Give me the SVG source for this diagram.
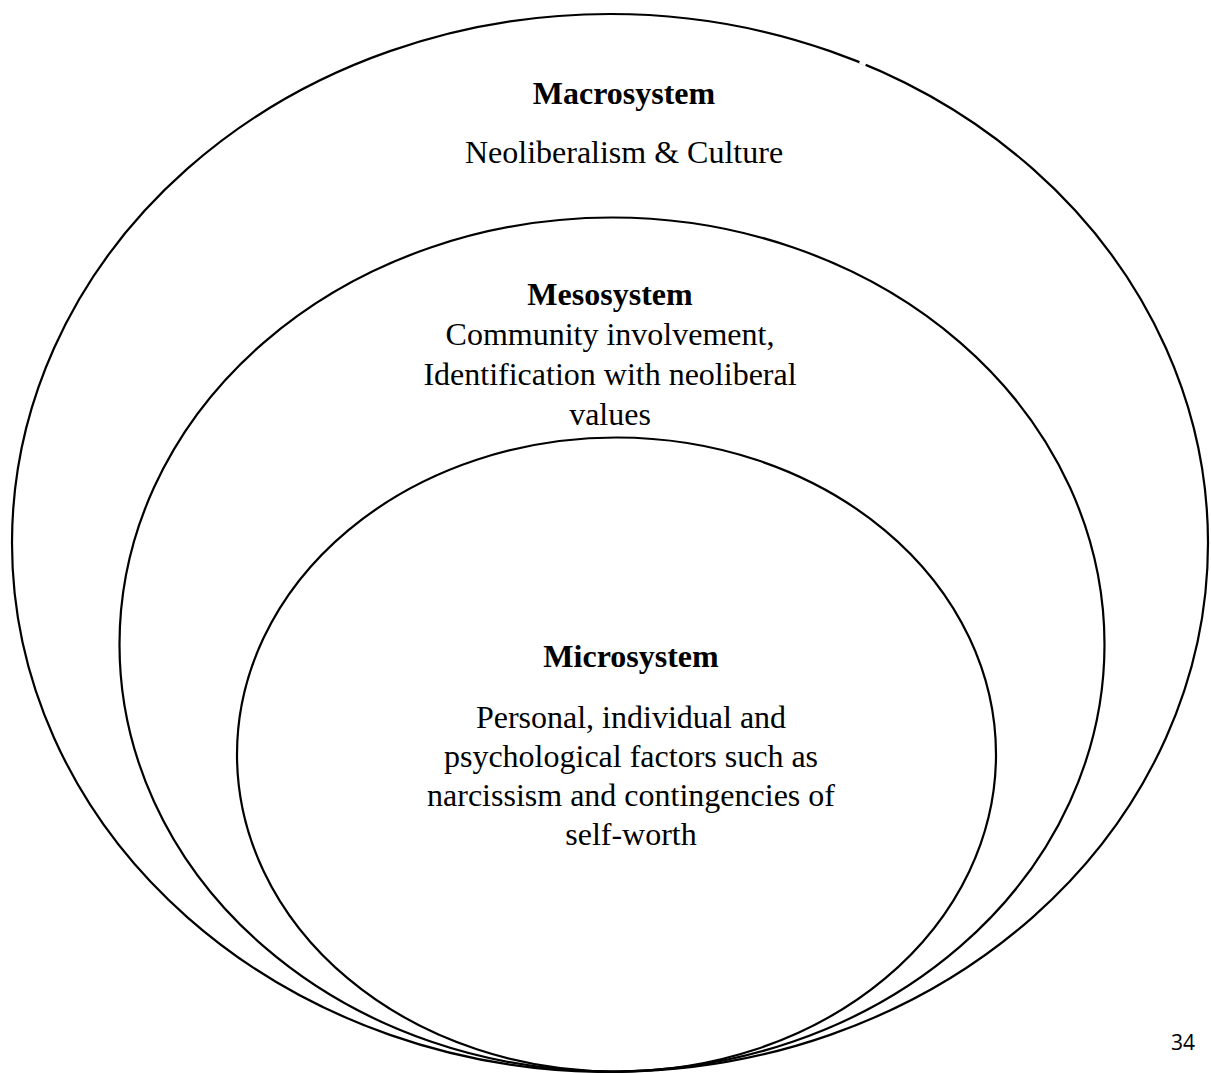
<svg xmlns="http://www.w3.org/2000/svg" width="1211" height="1073" viewBox="0 0 1211 1073">
<style>
.ring{fill:none;stroke:#000;stroke-width:2.2}
.t{font-family:"Liberation Serif","Times New Roman",serif;font-size:32px;fill:#000;text-anchor:middle}
.b{font-weight:bold}
.pg{font-family:"Open Sans","Liberation Sans",sans-serif;font-size:21px;fill:#000;text-anchor:middle}
</style>
<rect width="1211" height="1073" fill="#fff"/>
<g id="macrosystem">
<ellipse class="ring" cx="610" cy="543" rx="598" ry="529"/>
<line x1="860" y1="61" x2="866" y2="64" stroke="#fff" stroke-width="5"/>
<text class="t b" x="624" y="104">Macrosystem</text>
<text class="t" x="624" y="163">Neoliberalism &amp; Culture</text>
</g>
<g id="mesosystem">
<ellipse class="ring" cx="612" cy="644.5" rx="492.5" ry="427"/>
<text class="t b" x="610" y="305">Mesosystem</text>
<text class="t" x="610" y="345">Community involvement,</text>
<text class="t" x="610" y="385">Identification with neoliberal</text>
<text class="t" x="610" y="425">values</text>
</g>
<g id="microsystem">
<ellipse class="ring" cx="616.5" cy="754.5" rx="379.5" ry="317"/>
<text class="t b" x="631" y="667">Microsystem</text>
<text class="t" x="631" y="728">Personal, individual and</text>
<text class="t" x="631" y="767">psychological factors such as</text>
<text class="t" x="631" y="806">narcissism and contingencies of</text>
<text class="t" x="631" y="845">self-worth</text>
</g>
<g id="connectors"/>
<text class="pg" x="1183" y="1050">34</text>
</svg>
